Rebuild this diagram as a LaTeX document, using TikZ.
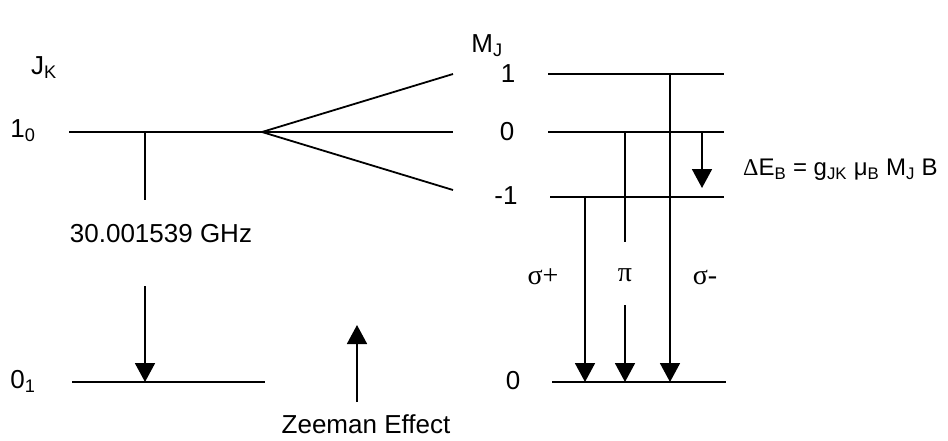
\documentclass[tikz,border=0pt]{standalone}
\usepackage{fontspec}
\setmainfont{Liberation Sans}
\newfontfamily\grk{Liberation Serif}
\usetikzlibrary{arrows.meta}
\tikzset{
  lvl/.style={line width=1.8pt},
  trans/.style={line width=1.8pt,-{Triangle[width=20pt,length=19pt]}},
  lbl/.style={font=\fontsize{26}{30}\selectfont,inner sep=0pt},
  frm/.style={font=\fontsize{24}{28}\selectfont,inner sep=0pt},
  grl/.style={font=\fontsize{28}{32}\selectfont\grk,inner sep=0pt},
}
\begin{document}
\begin{tikzpicture}[x=1pt,y=-1pt]
\useasboundingbox[fill=white] (0,0) rectangle (948,440);
% left labels
\node[lbl] (jk) at (44,68) {J\textsubscript{K}};
\node[lbl] (l10) at (23,131) {1\textsubscript{0}};
\node[lbl] (l01) at (23,381) {0\textsubscript{1}};
\node[lbl] (mj) at (487,46) {M\textsubscript{J}};
% left levels
\coordinate (a1) at (69,132);
\coordinate (fan) at (262,132);
\coordinate (b1) at (72,382);
\coordinate (b2) at (265,382);
\draw[lvl] (a1) -- (fan);
\draw[lvl] (b1) -- (b2);
% fan
\coordinate (ft) at (453,74);
\coordinate (fm) at (453,132);
\coordinate (fb) at (453,190);
\draw[lvl] (fan) -- (ft);
\draw[lvl] (fan) -- (fm);
\draw[lvl] (fan) -- (fb);
% right levels
\coordinate (p1l) at (548,74);  \coordinate (p1r) at (724,74);
\coordinate (z0l) at (548,132); \coordinate (z0r) at (724,132);
\coordinate (m1l) at (550,197); \coordinate (m1r) at (724,197);
\coordinate (g0l) at (552,382); \coordinate (g0r) at (726,382);
\draw[lvl] (p1l) -- (p1r);
\draw[lvl] (z0l) -- (z0r);
\draw[lvl] (m1l) -- (m1r);
\draw[lvl] (g0l) -- (g0r);
\node[lbl] (t1) at (508,74) {1};
\node[lbl] (t0) at (507,132) {0};
\node[lbl] (tm1) at (506,196) {-1};
\node[lbl] (tg) at (513,381) {0};
% left transition
\coordinate (v1) at (145,132);
\coordinate (v2) at (145,200);
\coordinate (v3) at (145,286);
\coordinate (v4) at (145,382);
\draw[lvl] (v1) -- (v2);
\node[lbl] (ghz) at (161,234) {30.001539 GHz};
\draw[trans] (v3) -- (v4);
% Zeeman arrow
\coordinate (z1) at (357,402);
\coordinate (z2) at (357,325);
\draw[trans] (z1) -- (z2);
\node[lbl] (zee) at (366,424) {Zeeman Effect};
% right transitions
\coordinate (sp1) at (585,197); \coordinate (sp2) at (585,382);
\coordinate (pi1) at (625,132); \coordinate (pi2) at (625,242);
\coordinate (pi3) at (625,305); \coordinate (pi4) at (625,382);
\coordinate (sm1) at (670,74);  \coordinate (sm2) at (670,382);
\draw[trans] (sp1) -- (sp2);
\draw[lvl] (pi1) -- (pi2);
\draw[trans] (pi3) -- (pi4);
\draw[trans] (sm1) -- (sm2);
\node[grl] (sp) at (543,277) {σ+};
\node[grl] (pi) at (625,275) {π};
\node[grl] (sm) at (705,277) {σ-};
% small Zeeman splitting arrow
\coordinate (d1) at (702,132);
\coordinate (d2) at (702,188);
\draw[trans] (d1) -- (d2);
\node[frm,anchor=west] (form) at (743,170) {{\grk Δ}E\textsubscript{B} = g\textsubscript{JK} μ\textsubscript{B} M\textsubscript{J} B};
\end{tikzpicture}
\end{document}
